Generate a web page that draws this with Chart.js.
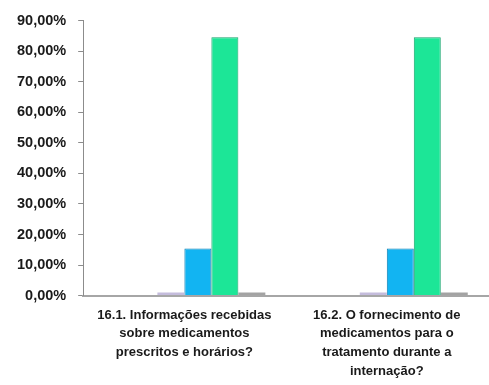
<!DOCTYPE html>
<html>
<head>
<meta charset="utf-8">
<script src="https://cdn.jsdelivr.net/npm/chart.js@4.4.1/dist/chart.umd.min.js"></script>
<style>
    html, body { margin: 0; padding: 0; background: #fff; }
    #wrap { width: 489px; height: 385px; }
</style>
</head>
<body>
<div id="wrap"><canvas id="chart"></canvas></div>
<script>
// Data
const categories = [
    ['16.1. Informações recebidas', 'sobre medicamentos', 'prescritos e horários?'],
    ['16.2. O fornecimento de', 'medicamentos para o', 'tratamento durante a', 'internação?']
];
// two leading empty slots keep the cluster offset like the original 3D chart
const spacerA = [null, null];
const spacerB = [null, null];
const seriesLavender = [0, 0];
const seriesBlue = [15.38, 15.38];
const seriesGreen = [84.62, 84.62];
const seriesGrey = [0, 0];
const yTicks = [0, 10, 20, 30, 40, 50, 60, 70, 80, 90];

document.addEventListener('DOMContentLoaded', function() {
    const font = "'Liberation Sans', Arial, sans-serif";

    new Chart(document.getElementById('chart'), {
        type: 'bar',
        data: {
            labels: categories,
            datasets: [
                { data: spacerA, backgroundColor: 'rgba(0,0,0,0)' },
                { data: spacerB, backgroundColor: 'rgba(0,0,0,0)' },
                { data: seriesLavender, backgroundColor: '#c4bcdc', minBarLength: 3 },
                { data: seriesBlue, backgroundColor: '#12b4f2', borderColor: '#0b7fb3', borderWidth: 1 },
                { data: seriesGreen, backgroundColor: '#1ce697', borderColor: '#12a56b', borderWidth: 1 },
                { data: seriesGrey, backgroundColor: '#a3a3a3', minBarLength: 3 }
            ]
        },
        options: {
            responsive: true,
            maintainAspectRatio: false,
            animation: false,
            categoryPercentage: 0.8,
            barPercentage: 1,
            layout: { padding: { top: 7, left: 5, right: 1, bottom: 2 } },
            plugins: {
                legend: { display: false },
                tooltip: { enabled: false }
            },
            scales: {
                x: {
                    grid: { display: false },
                    border: { display: true, color: '#a6a6a6', width: 2 },
                    ticks: {
                        color: '#1a1a1a',
                        font: { family: font, size: 13, weight: 'bold', lineHeight: 1.45 },
                        maxRotation: 0,
                        autoSkip: false,
                        padding: 2
                    }
                },
                y: {
                    min: 0,
                    max: 90,
                    afterBuildTicks: function(axis) {
                        axis.ticks = yTicks.map(v => ({ value: v }));
                    },
                    grid: {
                        display: true,
                        drawOnChartArea: false,
                        drawTicks: true,
                        tickLength: 5,
                        color: '#8c8c8c'
                    },
                    border: { display: true, color: '#8c8c8c', width: 1 },
                    ticks: {
                        color: '#1a1a1a',
                        padding: 12,
                        font: { family: font, size: 14.5, weight: 'bold' },
                        callback: function(value) {
                            return value.toFixed(2).replace('.', ',') + '%';
                        }
                    }
                }
            }
        }
    });
});
</script>
</body>
</html>
